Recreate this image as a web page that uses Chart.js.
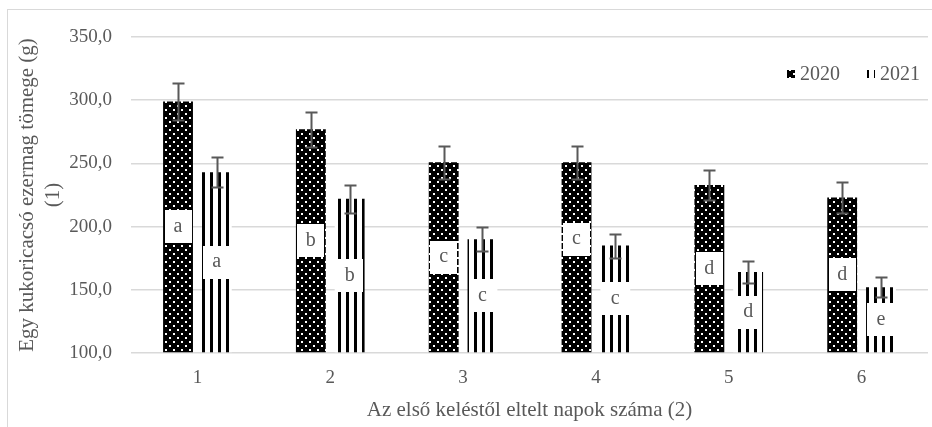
<!DOCTYPE html>
<html>
<head>
<meta charset="utf-8">
<script src="https://cdn.jsdelivr.net/npm/chart.js@4.4.1/dist/chart.umd.min.js"></script>
<style>
  html, body { margin: 0; padding: 0; background: #ffffff; }
  #wrap { width: 932px; height: 427px; }
</style>
</head>
<body>
<div id="wrap"><canvas id="chart" width="932" height="427"></canvas></div>
<script>
// Days since first emergence (categories)
const categories = ['1', '2', '3', '4', '5', '6'];
const seriesNames = ['2020', '2021'];

// Thousand-kernel weight per cob (g), mean values
const mean2020 = [299, 277, 251, 251, 233, 223];
const mean2021 = [243, 222, 190, 185, 164, 152];

// Error bar half-lengths (g)
const err2020 = [15, 14, 13, 13, 12, 12];
const err2021 = [12, 11, 9.5, 9.5, 8.5, 8];

// Significance letters
const letters2020 = ['a', 'b', 'c', 'c', 'd', 'd'];
const letters2021 = ['a', 'b', 'c', 'c', 'd', 'e'];

// Y axis range and step
const yMin = 100, yMax = 350, yStep = 50;

const FONT = '"Liberation Serif", "Times New Roman", serif';
const TEXT = '#595959';
const GRID = '#d9d9d9';

// Black fill with white dots, offset rows
function dotPattern() {
  const c = document.createElement('canvas');
  c.width = 8; c.height = 8;
  const g = c.getContext('2d');
  g.fillStyle = '#000'; g.fillRect(0, 0, 8, 8);
  g.fillStyle = '#fff';
  g.fillRect(1, 1, 2, 2);
  g.fillRect(5, 5, 2, 2);
  return g.createPattern(c, 'repeat');
}

// Vertical black stripes on white
function stripePattern() {
  const c = document.createElement('canvas');
  c.width = 8; c.height = 8;
  const g = c.getContext('2d');
  g.fillStyle = '#fff'; g.fillRect(0, 0, 8, 8);
  g.fillStyle = '#000'; g.fillRect(2, 0, 3, 8);
  return g.createPattern(c, 'repeat');
}

const fill2020 = dotPattern();
const fill2021 = stripePattern();

// White background and the outer frame
const frame = {
  id: 'frame',
  beforeDraw(chart) {
    const ctx = chart.ctx;
    ctx.save();
    ctx.fillStyle = '#fff';
    ctx.fillRect(0, 0, chart.width, chart.height);
    ctx.strokeStyle = GRID;
    ctx.lineWidth = 1;
    ctx.strokeRect(7.5, 9.5, chart.width + 20, chart.height + 20);
    ctx.restore();
  }
};

// Error bars with caps
const errorBars = {
  id: 'errorBars',
  afterDatasetsDraw(chart) {
    const ctx = chart.ctx, y = chart.scales.y;
    chart.data.datasets.forEach((ds, i) => {
      chart.getDatasetMeta(i).data.forEach((bar, j) => {
        const v = ds.data[j], e = ds.errors[j];
        const top = Math.round(y.getPixelForValue(v + e)) + 0.5;
        const bot = Math.round(y.getPixelForValue(v - e)) + 0.5;
        const x = Math.round(bar.x) + 0.5;
        ctx.save();
        ctx.strokeStyle = '#595959';
        ctx.lineWidth = 2;
        ctx.beginPath();
        ctx.moveTo(x, top); ctx.lineTo(x, bot);
        ctx.moveTo(x - 6, top); ctx.lineTo(x + 6, top);
        ctx.moveTo(x - 6, bot); ctx.lineTo(x + 6, bot);
        ctx.stroke();
        ctx.restore();
      });
    });
  }
};

// Letter labels in white boxes, centred on each bar
const letterLabels = {
  id: 'letterLabels',
  afterDatasetsDraw(chart, args, opts) {
    const ctx = chart.ctx;
    chart.data.datasets.forEach((ds, i) => {
      const shifts = (opts.shift && opts.shift[i]) || [];
      chart.getDatasetMeta(i).data.forEach((bar, j) => {
        const cx = bar.x;
        const cy = (bar.y + bar.base) / 2 - (shifts[j] || 0);
        const w = opts.boxWidth, h = opts.boxHeight;
        ctx.save();
        ctx.fillStyle = '#fff';
        ctx.fillRect(Math.round(cx - w / 2), Math.round(cy - h / 2), w, h);
        ctx.fillStyle = TEXT;
        ctx.font = '20px ' + FONT;
        ctx.textAlign = 'center';
        ctx.textBaseline = 'middle';
        ctx.fillText(ds.letters[j], cx, cy);
        ctx.restore();
      });
    });
  }
};

// Legend drawn inside the plot area, top right
const insideLegend = {
  id: 'insideLegend',
  afterDraw(chart) {
    const ctx = chart.ctx, area = chart.chartArea;
    ctx.save();
    ctx.font = '20px ' + FONT;
    ctx.textBaseline = 'middle';
    const cy = 74;
    let x = area.right - 8;
    const items = chart.data.datasets.slice().reverse();
    items.forEach(ds => {
      const tw = ctx.measureText(ds.label).width;
      x -= tw;
      ctx.fillStyle = TEXT;
      ctx.fillText(ds.label, x, cy + 1);
      x -= 5 + 8;
      ctx.fillStyle = ds.backgroundColor;
      ctx.fillRect(x, cy - 4, 8, 8);
      x -= 27;
    });
    ctx.restore();
  }
};

const datasets = [
  { label: seriesNames[0], data: mean2020, errors: err2020, letters: letters2020, backgroundColor: fill2020 },
  { label: seriesNames[1], data: mean2021, errors: err2021, letters: letters2021, backgroundColor: fill2021 }
];

const LEFT_PAD = 12, TOP_PAD = 37, RIGHT_PAD = 4, BOTTOM_PAD = 2;

new Chart(document.getElementById('chart'), {
  type: 'bar',
  data: { labels: categories, datasets },
  plugins: [frame, errorBars, letterLabels, insideLegend],
  options: {
    responsive: false,
    animation: false,
    devicePixelRatio: 1,
    layout: { padding: { left: LEFT_PAD, top: TOP_PAD, right: RIGHT_PAD, bottom: BOTTOM_PAD } },
    datasets: {
      bar: { base: yMin, categoryPercentage: 0.584, barPercentage: 0.77, borderWidth: 0 }
    },
    plugins: {
      legend: { display: false },
      tooltip: { enabled: false },
      letterLabels: { boxWidth: 27, boxHeight: 33, shift: [[0, 0, 0, 18, 0, 0], [0, 0, 0, 0, 0, 0]] }
    },
    scales: {
      x: {
        grid: { display: false, drawTicks: false },
        border: { display: false },
        ticks: { color: TEXT, font: { family: FONT, size: 19 }, padding: 14 },
        title: {
          display: true,
          text: 'Az első keléstől eltelt napok száma (2)',
          color: TEXT,
          font: { family: FONT, size: 21 },
          padding: { top: 0, bottom: 2 }
        },
        afterFit(scale) { scale.height = 427 - BOTTOM_PAD - 353; }
      },
      y: {
        min: yMin,
        max: yMax,
        grid: { color: GRID, lineWidth: 1.5, drawTicks: false },
        border: { display: false },
        ticks: {
          stepSize: yStep,
          color: TEXT,
          font: { family: FONT, size: 19 },
          padding: 19,
          callback: v => v.toFixed(1).replace('.', ',')
        },
        title: {
          display: true,
          text: ['Egy kukoricacsó ezermag tömege (g)', '(1)'],
          color: TEXT,
          font: { family: FONT, size: 21, lineHeight: 1.25 },
          padding: { top: 2, bottom: 0 }
        },
        afterFit(scale) { scale.width = 131 - LEFT_PAD; }
      }
    }
  }
});
</script>
</body>
</html>
